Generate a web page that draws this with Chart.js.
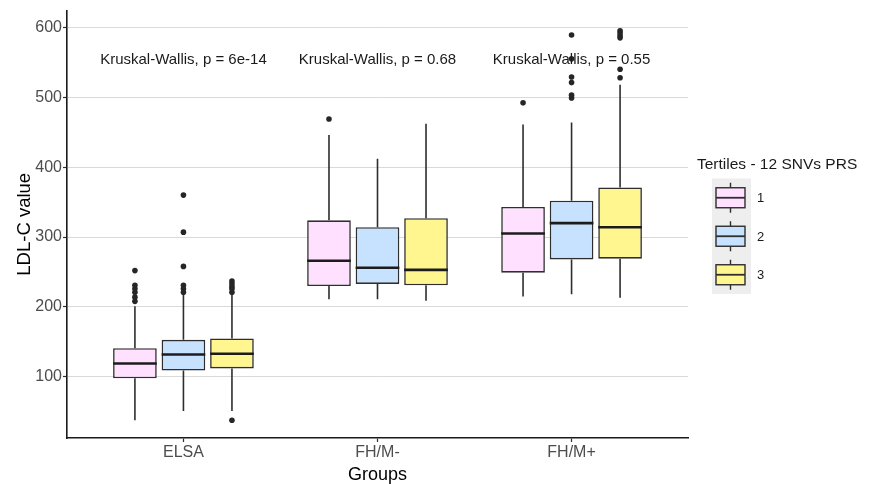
<!DOCTYPE html>
<html>
<head>
<meta charset="utf-8">
<style>
  html, body { margin: 0; padding: 0; background: #ffffff; }
  #wrap { width: 869px; height: 484px; }
</style>
<script src="https://cdn.jsdelivr.net/npm/chart.js@4.4.1/dist/chart.umd.min.js"></script>
</head>
<body>
<div id="wrap"><canvas id="c" width="869" height="484"></canvas></div>
<script>
// ---- data ----
const groups = ['ELSA', 'FH/M-', 'FH/M+'];
const tertiles = ['1', '2', '3'];
const yTicks = [100, 200, 300, 400, 500, 600];
const kwPValues = ['6e-14', '0.68', '0.55'];
const kwLabelValue = 547;

// box-plot summaries, one entry per group (ELSA, FH/M-, FH/M+)
const t1Low    = [38, 211, 215];
const t1Q1     = [98, 230, 249];
const t1Median = [119, 266, 305];
const t1Q3     = [141, 324, 343];
const t1High   = [201, 446, 461];
const t1Outliers = [[252, 231, 226, 221, 214, 208], [469], [492]];

const t2Low    = [51, 211, 218];
const t2Q1     = [109, 233, 268];
const t2Median = [132, 256, 320];
const t2Q3     = [153, 314, 352];
const t2High   = [217, 412, 464];
const t2Outliers = [[360, 307, 258, 231, 226, 221], [], [589, 555, 529, 521, 503, 499]];

const t3Low    = [51, 209, 213];
const t3Q1     = [112, 231, 269];
const t3Median = [133, 253, 314];
const t3Q3     = [155, 327, 371];
const t3High   = [218, 462, 518];
const t3Outliers = [[237, 233, 229, 226, 221, 38], [], [595, 592, 588, 585, 540, 528]];

// ---- styling ----
const FONT = '"Liberation Sans", Arial, Helvetica, sans-serif';
const fills = ['#FFE1FF', '#C6E2FF', '#FFF68F'];
const lineColor = '#2e2e2e';
const dodge = 0.25; // offset of each tertile inside a group, in x units

const summaries = [
  { low: t1Low, q1: t1Q1, median: t1Median, q3: t1Q3, high: t1High, out: t1Outliers },
  { low: t2Low, q1: t2Q1, median: t2Median, q3: t2Q3, high: t2High, out: t2Outliers },
  { low: t3Low, q1: t3Q1, median: t3Median, q3: t3Q3, high: t3High, out: t3Outliers }
];

// outlier points first so they are painted above the boxes
const outlierSets = summaries.map((s, t) => ({
  type: 'scatter',
  label: 'outliers ' + tertiles[t],
  data: s.out.flatMap((vals, g) => vals.map(v => ({ x: g + 1 + (t - 1) * dodge, y: v }))),
  pointRadius: 2.8,
  pointHoverRadius: 2.8,
  pointBackgroundColor: '#262626',
  pointBorderWidth: 0,
  order: 0
}));

const boxSets = summaries.map((s, t) => ({
  type: 'bar',
  label: tertiles[t],
  data: groups.map((_, g) => ({ x: g + 1, y: [s.q1[g], s.q3[g]] })),
  backgroundColor: fills[t],
  borderColor: lineColor,
  borderWidth: 1.6,
  borderSkipped: false,
  categoryPercentage: 0.75,
  barPercentage: 0.9,
  order: 1
}));

// whiskers and median bars on top of the floating boxes
const whiskerPlugin = {
  id: 'whiskers',
  afterDatasetsDraw(chart) {
    const ctx = chart.ctx;
    const ys = chart.scales.y;
    summaries.forEach((s, t) => {
      const meta = chart.getDatasetMeta(outlierSets.length + t);
      meta.data.forEach((bar, g) => {
        const x = bar.x;
        const half = bar.width / 2;
        ctx.save();
        ctx.strokeStyle = lineColor;
        ctx.lineWidth = 1.6;
        ctx.beginPath();
        ctx.moveTo(x, ys.getPixelForValue(s.q3[g]));
        ctx.lineTo(x, ys.getPixelForValue(s.high[g]));
        ctx.moveTo(x, ys.getPixelForValue(s.q1[g]));
        ctx.lineTo(x, ys.getPixelForValue(s.low[g]));
        ctx.stroke();
        const ym = ys.getPixelForValue(s.median[g]);
        ctx.strokeStyle = '#1c1c1c';
        ctx.lineWidth = 2.6;
        ctx.beginPath();
        ctx.moveTo(x - half, ym);
        ctx.lineTo(x + half, ym);
        ctx.stroke();
        ctx.restore();
      });
    });
    // Kruskal-Wallis annotations
    const xs = chart.scales.x;
    ctx.save();
    ctx.fillStyle = '#1a1a1a';
    ctx.font = '15px ' + FONT;
    ctx.textAlign = 'center';
    ctx.textBaseline = 'alphabetic';
    kwPValues.forEach((p, g) => {
      ctx.fillText('Kruskal-Wallis, p = ' + p, xs.getPixelForValue(g + 1), ys.getPixelForValue(kwLabelValue));
    });
    ctx.restore();
  }
};

// legend with box glyphs
const legendPlugin = {
  id: 'boxLegend',
  afterDraw(chart) {
    const ctx = chart.ctx;
    ctx.save();
    ctx.fillStyle = '#1a1a1a';
    ctx.font = '15.5px ' + FONT;
    ctx.textAlign = 'left';
    ctx.textBaseline = 'alphabetic';
    ctx.fillText('Tertiles - 12 SNVs PRS', 697, 168.5);

    const keyLeft = 712, keyW = 39, keyTop = 178.5, keyH = 38.5;
    ctx.fillStyle = '#eeeeee';
    ctx.fillRect(keyLeft, keyTop, keyW, keyH * tertiles.length);
    tertiles.forEach((lab, t) => {
      const cy = keyTop + keyH * t + keyH / 2;
      const cx = keyLeft + keyW / 2 - 1;
      ctx.strokeStyle = lineColor;
      ctx.lineWidth = 1.4;
      ctx.beginPath();
      ctx.moveTo(cx, cy - 15); ctx.lineTo(cx, cy - 10);
      ctx.moveTo(cx, cy + 10); ctx.lineTo(cx, cy + 15);
      ctx.stroke();
      ctx.fillStyle = fills[t];
      ctx.fillRect(cx - 14.5, cy - 10, 29, 20);
      ctx.strokeRect(cx - 14.5, cy - 10, 29, 20);
      ctx.lineWidth = 1.8;
      ctx.beginPath();
      ctx.moveTo(cx - 14.5, cy); ctx.lineTo(cx + 14.5, cy);
      ctx.stroke();
      ctx.fillStyle = '#1a1a1a';
      ctx.font = '13px ' + FONT;
      ctx.textBaseline = 'middle';
      ctx.fillText(lab, 757, cy + 1);
    });
    ctx.restore();
  }
};

new Chart(document.getElementById('c'), {
  type: 'bar',
  data: { datasets: [...outlierSets, ...boxSets] },
  options: {
    responsive: false,
    animation: false,
    devicePixelRatio: 1,
    layout: { padding: { left: 0, top: 10, right: 181, bottom: 0 } },
    plugins: { legend: { display: false }, tooltip: { enabled: false } },
    scales: {
      x: {
        type: 'linear',
        min: 0.4,
        max: 3.6,
        offset: false,
        afterBuildTicks(scale) { scale.ticks = groups.map((_, g) => ({ value: g + 1 })); },
        afterFit(scale) { scale.height = 46; },
        ticks: {
          callback: (v) => groups[Math.round(v) - 1] || '',
          color: '#4d4d4d',
          font: { family: FONT, size: 16 },
          padding: 1,
          maxRotation: 0,
          autoSkip: false
        },
        grid: { display: true, drawOnChartArea: false, drawTicks: true, tickLength: 4, tickColor: lineColor, tickWidth: 1.2, offset: false },
        border: { display: true, color: '#1a1a1a', width: 1.6 },
        title: { display: true, text: 'Groups', color: '#000000', font: { family: FONT, size: 18, lineHeight: 1.0 }, padding: { top: 0, bottom: 0 } }
      },
      y: {
        type: 'linear',
        min: 12.5,
        max: 624,
        afterBuildTicks(scale) { scale.ticks = yTicks.map(v => ({ value: v })); },
        afterFit(scale) { scale.width = 67; },
        ticks: {
          color: '#4d4d4d',
          font: { family: FONT, size: 16 },
          padding: 1
        },
        grid: { color: '#d9d9d9', lineWidth: 1, drawTicks: true, tickLength: 4, tickColor: lineColor, tickWidth: 1.2 },
        border: { display: true, color: '#1a1a1a', width: 1.6 },
        title: { display: true, text: 'LDL-C value', color: '#000000', font: { family: FONT, size: 18.5, lineHeight: 1.2 }, padding: { top: 13.5, bottom: 0 } }
      }
    }
  },
  plugins: [whiskerPlugin, legendPlugin]
});
</script>
</body>
</html>
